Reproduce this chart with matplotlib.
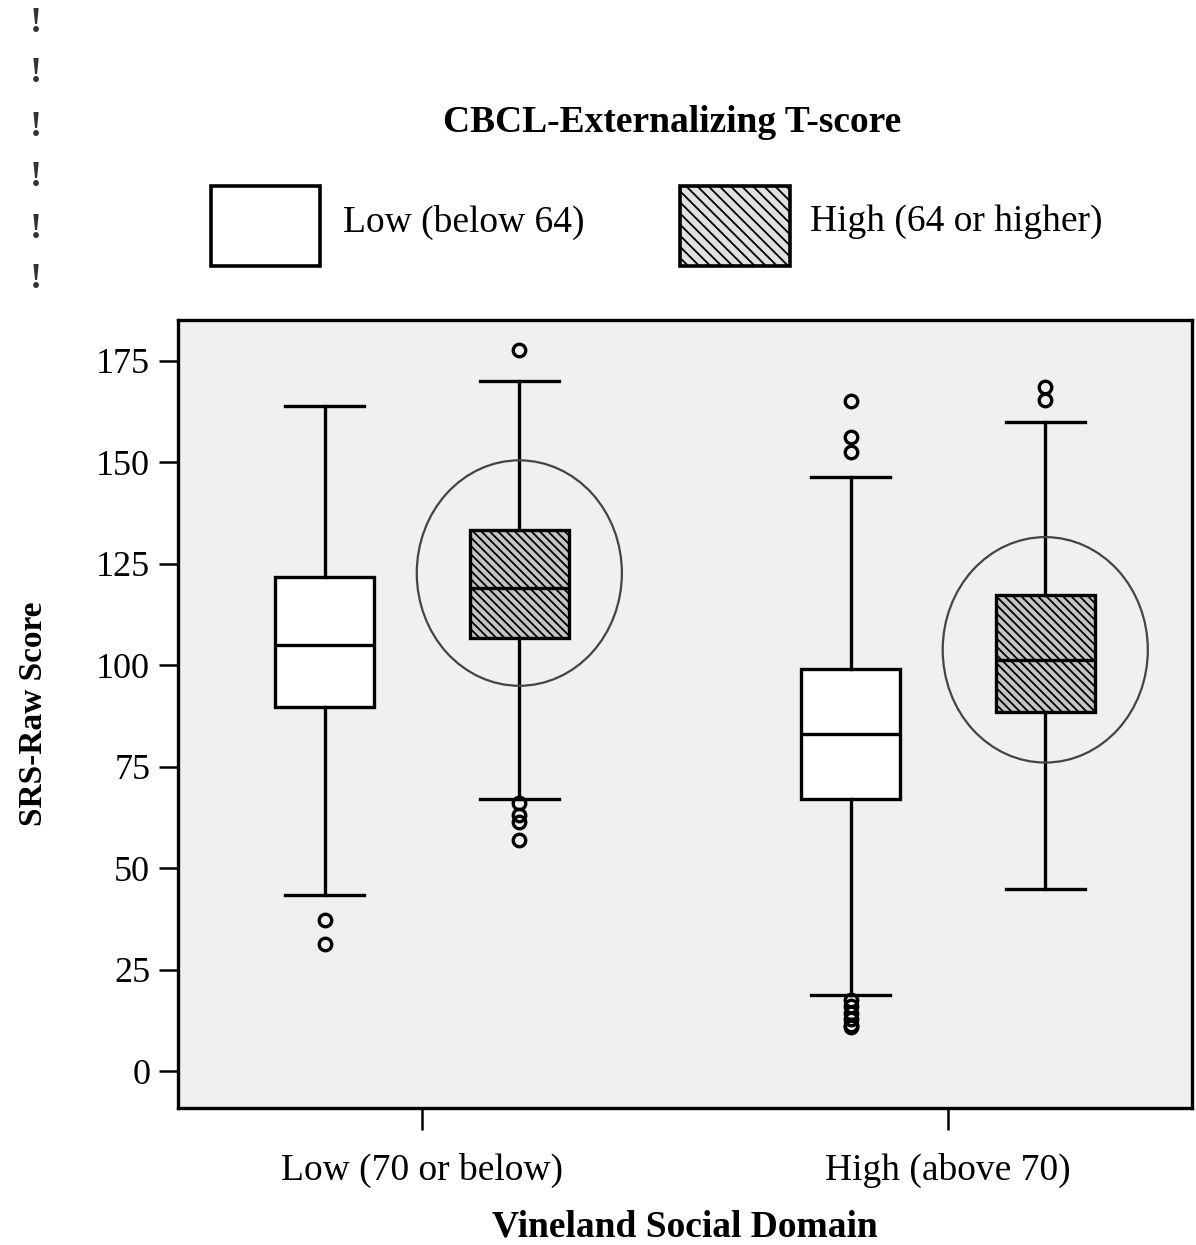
import matplotlib
matplotlib.use("Agg")
import matplotlib.pyplot as plt
from matplotlib.patches import Rectangle, Ellipse

plt.rcParams['font.family'] = ['Liberation Serif', 'DejaVu Serif']
plt.rcParams['hatch.linewidth'] = 1.3

# data
domain_groups = ['Low (70 or below)', 'High (above 70)']
cbcl_levels = ['Low (below 64)', 'High (64 or higher)']

# order: [Vineland low / CBCL low, Vineland low / CBCL high, Vineland high / CBCL low, Vineland high / CBCL high]
whisker_lo = [43.4, 67.0, 18.7, 44.9]
q1 = [89.7, 106.7, 67.0, 88.5]
median = [105.0, 119.0, 83.0, 101.3]
q3 = [121.8, 133.3, 99.1, 117.3]
whisker_hi = [163.9, 170.0, 146.4, 160.0]
outliers = [
    [37.2, 31.3],
    [177.5, 66.0, 63.1, 61.4, 56.9],
    [165.1, 156.3, 152.6, 17.5, 16.0, 14.5, 13.0, 11.5, 11.0],
    [168.6, 165.4],
]

# circled high-CBCL boxes
circle_center = [122.7, 103.8]
circle_height = [55.5, 55.5]

offset = 0.185
box_w = 0.188

fig = plt.figure(figsize=(11.96, 12.45), dpi=100)
ax = fig.add_axes([178 / 1196, 1 - 1108 / 1245, (1192 - 178) / 1196, (1108 - 320) / 1245])
ax.set_facecolor('#f0f0f0')

stats = []
positions = []
for i in range(4):
    stats.append(dict(whislo=whisker_lo[i], q1=q1[i], med=median[i], q3=q3[i],
                      whishi=whisker_hi[i], fliers=outliers[i]))
    g = i // 2
    positions.append(g + (-offset if i % 2 == 0 else offset))

bp = ax.bxp(stats, positions=positions, widths=box_w, patch_artist=True,
            showfliers=True, manage_ticks=False,
            boxprops=dict(linewidth=2.4, edgecolor='black'),
            medianprops=dict(color='black', linewidth=2.4),
            whiskerprops=dict(color='black', linewidth=2.4),
            capprops=dict(color='black', linewidth=2.4),
            capwidths=0.15,
            flierprops=dict(marker='o', markersize=9, markerfacecolor='none',
                            markeredgecolor='black', markeredgewidth=2.4))
for i, patch in enumerate(bp['boxes']):
    if i % 2 == 0:
        patch.set_facecolor('white')
    else:
        patch.set_facecolor('#c4c4c4')
        patch.set_hatch('\\\\\\\\')

for g in range(2):
    ax.add_patch(Ellipse((g + offset, circle_center[g]), 0.39, circle_height[g],
                         facecolor='none', edgecolor='#444444', linewidth=1.6, zorder=3))

ax.set_xlim(-0.464, 1.464)
ax.set_ylim(-9, 185)
ax.set_yticks(range(0, 176, 25))
ax.set_xticks([0, 1])
ax.set_xticklabels(domain_groups)
ax.tick_params(axis='y', labelsize=26, length=14, width=1.8, pad=6)
ax.tick_params(axis='x', labelsize=27, length=16, width=1.8, pad=16)
for s in ['top', 'right', 'bottom', 'left']:
    ax.spines[s].set_linewidth(2.4)
ax.set_xlabel('Vineland Social Domain', fontsize=27, fontweight='bold', labelpad=16)
ax.set_ylabel('SRS-Raw Score', fontsize=24, fontweight='bold', labelpad=34)

# legend drawn above the plot
fig.text(672 / 1196, 1 - 122 / 1245, 'CBCL-Externalizing T-score', fontsize=27,
         fontweight='bold', ha='center', va='center')
fig.add_artist(Rectangle((211 / 1196, 1 - 266 / 1245), 109 / 1196, 80 / 1245,
                         transform=fig.transFigure, facecolor='white',
                         edgecolor='black', linewidth=2.6))
fig.text(343 / 1196, 1 - 222 / 1245, cbcl_levels[0], fontsize=27, ha='left', va='center')
fig.add_artist(Rectangle((680 / 1196, 1 - 266 / 1245), 110 / 1196, 80 / 1245,
                         transform=fig.transFigure, facecolor='#e0e0e0', hatch='\\\\\\',
                         edgecolor='black', linewidth=2.6))
fig.text(810 / 1196, 1 - 222 / 1245, cbcl_levels[1], fontsize=27, ha='left', va='center')

for yp in [24, 74, 128, 177, 229, 279]:
    fig.text(36 / 1196, 1 - yp / 1245, '!', fontsize=26, fontweight='bold',
             color='#333333', ha='center', va='center')

fig.savefig('out.png', dpi=100)
